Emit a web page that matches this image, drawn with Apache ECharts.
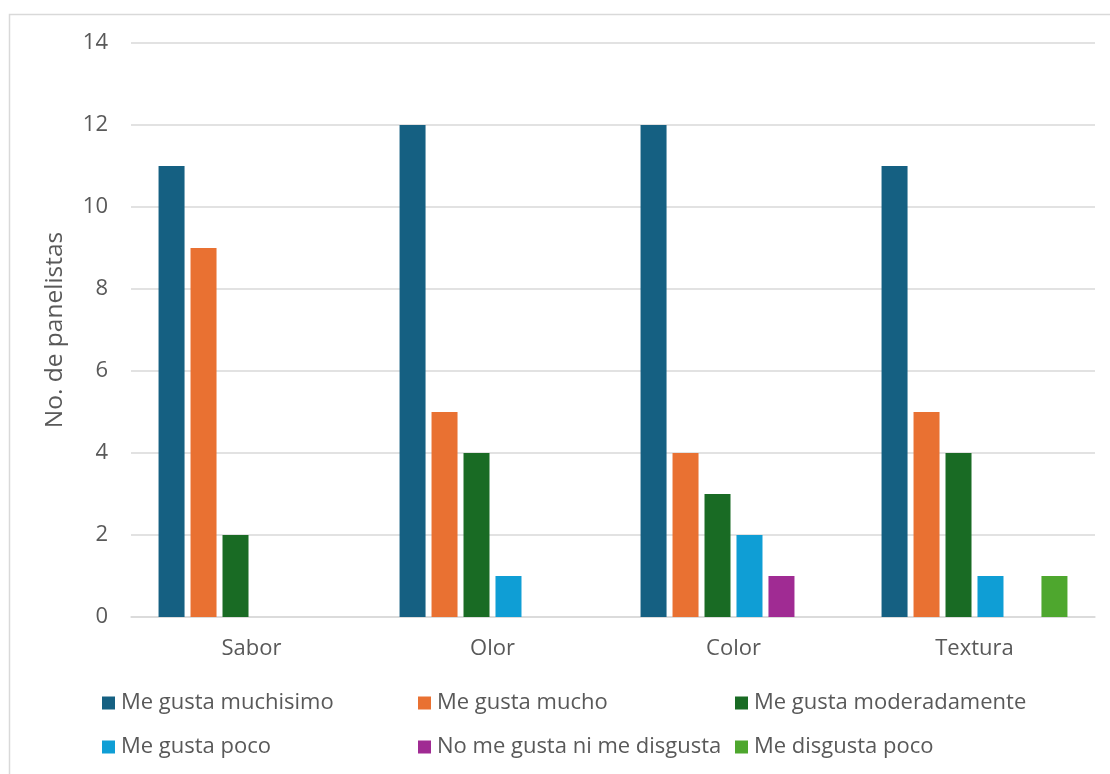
<!DOCTYPE html>
<html><head><meta charset="utf-8">
<script src="https://cdn.jsdelivr.net/npm/echarts@6/dist/echarts.min.js"></script>
<style>html,body{margin:0;padding:0;background:#fff}#c{width:1110px;height:774px}</style>
</head><body><div id="c"></div>
<script>
const categories = ['Sabor', 'Olor', 'Color', 'Textura'];
const seriesNames = ['Me gusta muchisimo', 'Me gusta mucho', 'Me gusta moderadamente', 'Me gusta poco', 'No me gusta ni me disgusta', 'Me disgusta poco'];
const muchisimo = [11, 12, 12, 11];
const mucho = [9, 5, 4, 5];
const moderadamente = [2, 4, 3, 4];
const poco = [0, 1, 2, 1];
const niNi = [0, 0, 1, 0];
const disgustaPoco = [0, 0, 0, 1];
const yTicks = [0, 2, 4, 6, 8, 10, 12, 14];
const colors = ['#156082', '#E97132', '#196B24', '#0F9ED5', '#A02B93', '#4EA72E'];
const values = [muchisimo, mucho, moderadamente, poco, niNi, disgustaPoco];

const font = 'Open Sans';
const textColor = '#595959';
const chart = echarts.init(document.getElementById('c'), null, {renderer: 'canvas'});
const legendCol = (names, left) => ({
  orient: 'vertical', left: left, top: 691, padding: 0, itemWidth: 13, itemHeight: 13, itemGap: 20,
  icon: 'rect', data: names,
  textStyle: {fontFamily: font, fontSize: 22, lineHeight: 24, color: textColor, padding: [0, 0, 0, 1]},
  selectedMode: false
});
chart.setOption({
  animation: false,
  textStyle: {fontFamily: font},
  graphic: [{type: 'rect', shape: {x: 9.5, y: 14.5, width: 1200, height: 900}, style: {fill: 'none', stroke: '#d9d9d9', lineWidth: 1.5}, silent: true}],
  grid: {left: 131, right: 15, top: 43, bottom: 157},
  legend: [
    legendCol([seriesNames[0], seriesNames[3]], 102),
    legendCol([seriesNames[1], seriesNames[4]], 418),
    legendCol([seriesNames[2], seriesNames[5]], 735)
  ],
  xAxis: {
    type: 'category', data: categories,
    axisLine: {lineStyle: {color: '#d9d9d9', width: 1.5}},
    axisTick: {show: false},
    axisLabel: {fontFamily: font, fontSize: 22, color: textColor, margin: 21}
  },
  yAxis: {
    type: 'value', min: yTicks[0], max: yTicks[yTicks.length - 1], interval: 2,
    name: 'No. de panelistas', nameLocation: 'middle', nameGap: 63,
    nameTextStyle: {fontFamily: font, fontSize: 24.5, color: textColor},
    axisLine: {show: false}, axisTick: {show: false},
    axisLabel: {fontFamily: font, fontSize: 22, color: textColor, margin: 23},
    splitLine: {lineStyle: {color: '#d9d9d9', width: 1.5}}
  },
  series: values.map((v, i) => ({
    name: seriesNames[i], type: 'bar', data: v, barWidth: 26, barGap: '23%',
    itemStyle: {color: colors[i]}
  }))
});
</script></body></html>
